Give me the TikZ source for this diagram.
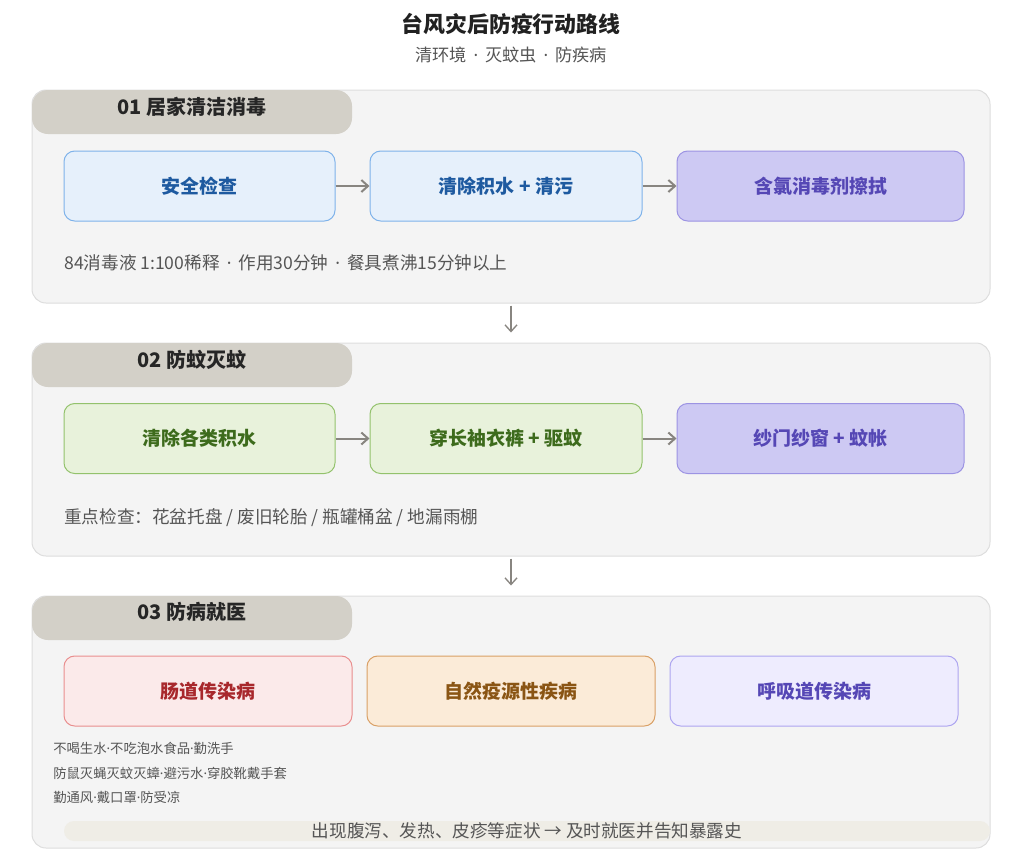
\documentclass[tikz,border=0pt]{standalone}
\usepackage{fontspec}
\setmainfont{Noto Sans CJK SC}
\newfontfamily\latinfont{Noto Sans}
\newcommand\md{{\latinfont ·}}
\newcommand\sepdot{\hspace{0.4em}\md\hspace{0.4em}}
\usetikzlibrary{arrows.meta}

\definecolor{panelfill}{HTML}{F4F4F4}
\definecolor{panelline}{HTML}{DDDDDD}
\definecolor{tabfill}{HTML}{D3D0C8}
\definecolor{bluefill}{HTML}{E6F0FB}
\definecolor{blueline}{HTML}{7EB2EA}
\definecolor{bluetext}{HTML}{1E5AA0}
\definecolor{purpfill}{HTML}{CDC9F3}
\definecolor{purpline}{HTML}{9C93E3}
\definecolor{purptext}{HTML}{5547B5}
\definecolor{greenfill}{HTML}{E8F2DB}
\definecolor{greenline}{HTML}{93C26C}
\definecolor{greentext}{HTML}{3D6B1C}
\definecolor{redfill}{HTML}{FBEAEA}
\definecolor{redline}{HTML}{E98E8E}
\definecolor{redtext}{HTML}{A8282C}
\definecolor{orfill}{HTML}{FBEBD8}
\definecolor{orline}{HTML}{D9A066}
\definecolor{ortext}{HTML}{8A5514}
\definecolor{lavfill}{HTML}{EEECFE}
\definecolor{lavline}{HTML}{ADA5F0}
\definecolor{barfill}{HTML}{EFEDE6}
\definecolor{arrowgray}{HTML}{888580}
\definecolor{notetext}{HTML}{555555}

\begin{document}
\begin{tikzpicture}[x=0.75pt, y=-0.75pt,
    panel/.style={draw=panelline, fill=panelfill, line width=0.75pt, rounded corners=10.5pt,
      minimum width=718.5pt, inner sep=0pt},
    tab/.style={fill=tabfill, rounded corners=12pt, minimum width=240pt, minimum height=33pt, inner sep=0pt},
    tabtext/.style={text=black!85, font=\bfseries\fontsize{15}{18}\selectfont},
    box/.style={rounded corners=8pt, line width=0.75pt, minimum height=52.5pt, inner sep=0pt,
      font=\bfseries\fontsize{14.25}{17}\selectfont},
    note/.style={anchor=west, text=notetext, inner sep=0pt, font=\fontsize{13.2}{15}\selectfont},
    small/.style={anchor=west, text=notetext, inner sep=0pt, font=\fontsize{10}{12}\selectfont},
    flow/.style={draw=arrowgray, line width=1.5pt, -{Straight Barb[length=5pt,width=9pt]}},
    down/.style={draw=arrowgray, line width=1pt, -{Straight Barb[length=5pt,width=9pt]}}]

\useasboundingbox (0,0) rectangle (1010,858);
\fill[white] (0,0) rectangle (1010,858);

\node[font=\bfseries\fontsize{16.4}{19}\selectfont, text=black!87] (title) at (511,24) {台风灾后防疫行动路线};
\node[font=\fontsize{12.9}{15}\selectfont, text=notetext] (subtitle) at (511,55) {清环境\sepdot 灭蚊虫\sepdot 防疾病};

\node[panel, minimum height=159.75pt] (p1) at (511,196.5) {};
\node[tab] (tab1) at (192,112) {};
\node[tabtext] (h1) at (192,107) {01 居家清洁消毒};
\node[box, draw=blueline, fill=bluefill, text=bluetext, minimum width=203.25pt] (b11) at (199.5,186) {安全检查};
\node[box, draw=blueline, fill=bluefill, text=bluetext, minimum width=204pt] (b12) at (506,186) {清除积水 + 清污};
\node[box, draw=purpline, fill=purpfill, text=purptext, minimum width=215.25pt] (b13) at (820.5,186) {含氯消毒剂擦拭};
\draw[flow] (b11) -- (b12);
\draw[flow] (b12) -- (b13);
\node[note] (n1) at (64,263) {84消毒液 1:100稀释\sepdot 作用30分钟\sepdot 餐具煮沸15分钟以上};

\node[panel, minimum height=159.75pt] (p2) at (511,449.5) {};
\node[tab] (tab2) at (192,365) {};
\node[tabtext] (h2) at (192,360) {02 防蚊灭蚊};
\node[box, draw=greenline, fill=greenfill, text=greentext, minimum width=203.25pt] (b21) at (199.5,438.5) {清除各类积水};
\node[box, draw=greenline, fill=greenfill, text=greentext, minimum width=204pt] (b22) at (506,438.5) {穿长袖衣裤 + 驱蚊};
\node[box, draw=purpline, fill=purpfill, text=purptext, minimum width=215.25pt] (b23) at (820.5,438.5) {纱门纱窗 + 蚊帐};
\draw[flow] (b21) -- (b22);
\draw[flow] (b22) -- (b23);
\node[note] (n2) at (64,518) {重点检查：花盆托盘 / 废旧轮胎 / 瓶罐桶盆 / 地漏雨棚};

\node[panel, minimum height=189pt] (p3) at (511,722) {};
\node[tab] (tab3) at (192,618) {};
\node[tabtext] (h3) at (192,612) {03 防病就医};
\node[box, draw=redline, fill=redfill, text=redtext, minimum width=216pt] (b31) at (208,691) {肠道传染病};
\node[box, draw=orline, fill=orfill, text=ortext, minimum width=216pt] (b32) at (511,691) {自然疫源性疾病};
\node[box, draw=lavline, fill=lavfill, text=purptext, minimum width=216pt] (b33) at (814,691) {呼吸道传染病};
\node[small] (s1) at (53,748) {不喝生水\md 不吃泡水食品\md 勤洗手};
\node[small] (s2) at (53,773) {防鼠灭蝇灭蚊灭蟑\md 避污水\md 穿胶靴戴手套};
\node[small] (s3) at (53,797) {勤通风\md 戴口罩\md 防受凉};
\node[fill=barfill, rounded corners=7.5pt, minimum width=694.5pt, minimum height=15pt, inner sep=0pt] (bar) at (527,831) {};
\node[text=notetext, font=\fontsize{13.2}{15}\selectfont] (alert) at (527,831) {出现腹泻、发热、皮疹等症状 → 及时就医并告知暴露史};

\coordinate (mid) at (511,0);
\draw[down, shorten <=1.5pt, shorten >=7.5pt] (p1.south -| mid) -- (p2.north -| mid);
\draw[down, shorten <=1.5pt, shorten >=7.5pt] (p2.south -| mid) -- (p3.north -| mid);
\end{tikzpicture}
\end{document}
